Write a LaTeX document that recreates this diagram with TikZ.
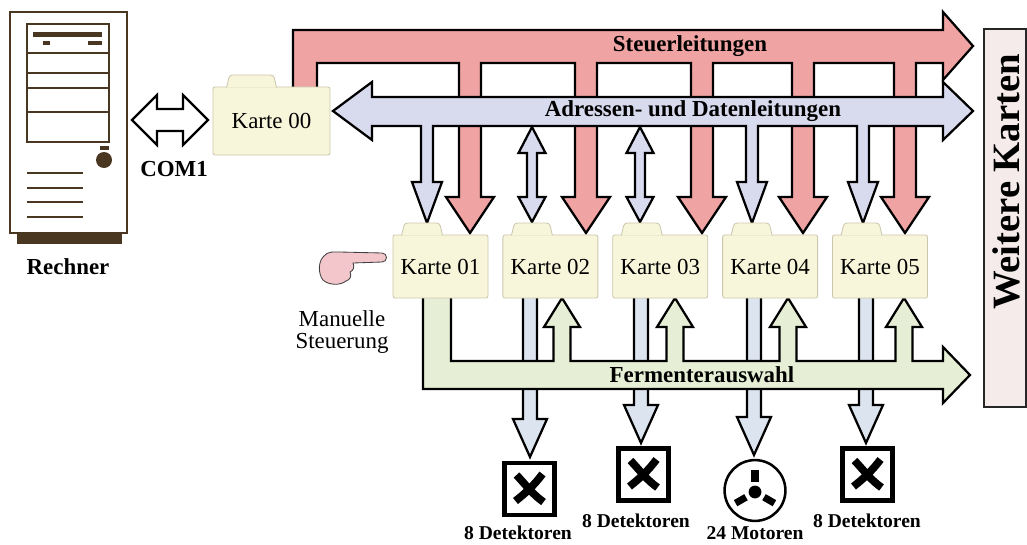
\documentclass[tikz,border=0pt]{standalone}
\usepackage{fontspec}
\setmainfont{Liberation Serif}
\usetikzlibrary{positioning, calc, backgrounds}

\definecolor{BusRed}{HTML}{F0A3A3}
\definecolor{BusBlue}{HTML}{D8DAEE}
\definecolor{PortBlue}{HTML}{DCE4EF}
\definecolor{BusGreen}{HTML}{E6EED5}
\definecolor{CardFill}{HTML}{F8F6DA}
\definecolor{CardLine}{HTML}{CBC7AE}
\definecolor{PcBrown}{HTML}{4A3722}
\definecolor{MoreFill}{HTML}{F5EBEB}
\definecolor{HandPink}{HTML}{F3C6CB}

\newcommand{\bigfont}{\fontsize{16.3pt}{15pt}\selectfont}
\newcommand{\smallfont}{\fontsize{13.9pt}{16pt}\selectfont}

\begin{document}
\begin{tikzpicture}[
  x=0.025cm, y=-0.025cm,
  bus/.style={draw=black, line width=1.6pt, line join=miter},
  card/.style={rectangle, rounded corners=1.5pt, fill=CardFill, draw=CardLine,
               line width=0.6pt, minimum width=2.375cm, minimum height=1.575cm,
               font=\bigfont},
  cardtab/.style={fill=CardFill, draw=CardLine, line width=0.6pt, rounded corners=2pt},
  lbl/.style={font=\bigfont\bfseries},
  devlbl/.style={font=\smallfont\bfseries},
  detector/.style={draw, line width=3.4pt, minimum width=1.25cm, minimum height=1.3cm},
  xarm/.style={line width=5.5pt},
  node distance=0.35cm,
]
\useasboundingbox (0,0) rectangle (1027,545);

% Rechner
\begin{scope}[PcBrown]
  \draw[line width=2pt, fill=white] (10,12) rectangle (127,233);
  \fill (17,233) rectangle (122,244);
  \draw[line width=1.5pt] (27,24) rectangle (109,142);
  \foreach \y in {53,73,88,112}
    \draw[line width=1.8pt] (27,\y) -- (109,\y);
  \fill (33,32) rectangle (102,37);
  \fill (43,41) rectangle (50,45);
  \fill (88,41) rectangle (102,45);
  \fill (100,146) rectangle (109,150);
  \fill (104,160) circle[radius=0.2cm];
  \foreach \y in {173,188,202,217}
    \draw[line width=2pt] (27,\y) -- (83,\y);
\end{scope}
\node[lbl] (rechner) at (68,267) {Rechner};

% Karten
\node[card, minimum width=2.925cm, minimum height=1.7cm] (k0) at (271.5,121) {Karte 00};
\node[card] (k1) at (440.5,266.5) {Karte 01};
\node[card, right=of k1] (k2) {Karte 02};
\node[card, right=of k2] (k3) {Karte 03};
\node[card, right=of k3] (k4) {Karte 04};
\node[card, right=of k4] (k5) {Karte 05};
\foreach \k/\dx/\w in {k0/14/50, k1/9/41, k2/9/41, k3/9/41, k4/9/41, k5/9/41}
  \path[cardtab] ($(\k.north west)+(\dx,0.8)$) -- ++(3,-12.3) -- ++(\w-6,0) -- ++(3,12.3);

% COM1
\draw[bus, fill=white] (132,120) -- (157,95) -- (157,109) -- (183,109) -- (183,95) -- (208,120)
  -- (183,145) -- (183,131) -- (157,131) -- (157,145) -- cycle;
\node[lbl] (com) at (174,169) {COM1};

% buses
\begin{scope}[on background layer]
  \draw[bus, fill=BusRed] (293,92) -- (293,30) -- (943,30) -- (943,12) -- (973,46) -- (943,80) -- (943,63)
    \foreach \c in {905,803,702,586,470} {
      -- (\c+11,63) -- (\c+11,197) -- (\c+24,197) -- (\c,233) -- (\c-24,197) -- (\c-11,197) -- (\c-11,63)
    }
    -- (317,63) -- (317,92) -- cycle;
  \draw[bus, fill=BusBlue] (333,111) -- (372,82) -- (372,97) -- (943,97) -- (943,82) -- (973,111) -- (943,140) -- (943,126)
    \foreach \c in {863,752,427} {
      -- (\c+6,126) -- (\c+6,182) -- (\c+15,182) -- (\c,223) -- (\c-15,182) -- (\c-6,182) -- (\c-6,126)
    }
    -- (372,126) -- (372,140) -- cycle;
  \foreach \c in {532,640}
    \draw[bus, fill=BusBlue] (\c,127) -- (\c+13.5,153) -- (\c+5,153) -- (\c+5,197) -- (\c+13.5,197) -- (\c,222)
      -- (\c-13.5,197) -- (\c-5,197) -- (\c-5,153) -- (\c-13.5,153) -- cycle;
  \foreach \c/\t in {530/457, 641/443, 754/455, 866/443}
    \draw[bus, fill=PortBlue] (\c-7,294) -- (\c-7,\t-38) -- (\c-17,\t-38) -- (\c,\t) -- (\c+17,\t-38)
      -- (\c+7,\t-38) -- (\c+7,294) -- cycle;
  \draw[bus, fill=BusGreen] (451,294) -- (423,294) -- (423,389) -- (943,389) -- (943,403) -- (970,375) -- (943,347) -- (943,361)
    \foreach \c in {904,788,675,562} {
      -- (\c+8.5,361) -- (\c+8.5,327) -- (\c+18,327) -- (\c,298) -- (\c-18,327) -- (\c-8.5,327) -- (\c-8.5,361)
    }
    -- (451,361) -- cycle;
\end{scope}
\node[lbl] (steuer) at (690,46) {Steuerleitungen};
\node[lbl] (adr) at (693,111) {Adressen- und Datenleitungen};
\node[lbl] (ferm) at (702,375) {Fermenterauswahl};

% weitere Karten
\node[draw=black!85, line width=1.2pt, fill=MoreFill, minimum width=1.05cm, minimum height=9.45cm,
      anchor=north west, inner sep=0pt] (more) at (983,28) {};
\node[rotate=90, font=\fontsize{27.5pt}{30pt}\selectfont\bfseries] (moretxt) at (1006,182) {Weitere Karten};

% manuelle Steuerung
\draw[fill=HandPink, draw=black!75, line width=0.6pt] (324,256) .. controls (328,251) and (334,252) .. (340,252)
  -- (382,253) .. controls (388,253) and (388,262) .. (382,262) -- (353,263)
  .. controls (355,267) and (353,271) .. (350,272) .. controls (352,276) and (350,280) .. (346,281)
  .. controls (340,286) and (328,285) .. (323,280) .. controls (318,274) and (318,261) .. (324,256) -- cycle;
\node[font=\bigfont, align=center] (manual) at (342,332) {Manuelle\\Steuerung};

% Detektoren und Motoren
\node[detector] (d1) at (529.5,489) {};
\node[detector] (d2) at (643.5,474.5) {};
\node[draw, circle, line width=1.8pt, minimum size=1.52cm] (mot) at (755,490.5) {};
\node[detector] (d4) at (867.5,474.5) {};
\foreach \s in {d1,d2,d4} {
  \draw[xarm] ($(\s)+(-13,-14)$) .. controls ($(\s)+(-2,-2)$) and ($(\s)+(4,6)$) .. ($(\s)+(14,13)$);
  \draw[xarm] ($(\s)+(13,-15)$) .. controls ($(\s)+(4,-3)$) and ($(\s)+(-4,4)$) .. ($(\s)+(-14,12)$);
}
\fill ($(mot.center)+(0,1.5)$) circle[radius=0.16cm];
\foreach \a in {90,210,330}
  \draw[line width=5pt] ($(mot.center)+(0,1.5)+(\a:0.26cm)$) -- ($(mot.center)+(0,1.5)+(\a:0.56cm)$);

\node[devlbl] (l1) at (518,533) {8 Detektoren};
\node[devlbl] (l2) at (636,521) {8 Detektoren};
\node[devlbl] (l3) at (755,533) {24 Motoren};
\node[devlbl] (l4) at (867,521) {8 Detektoren};
\end{tikzpicture}
\end{document}
